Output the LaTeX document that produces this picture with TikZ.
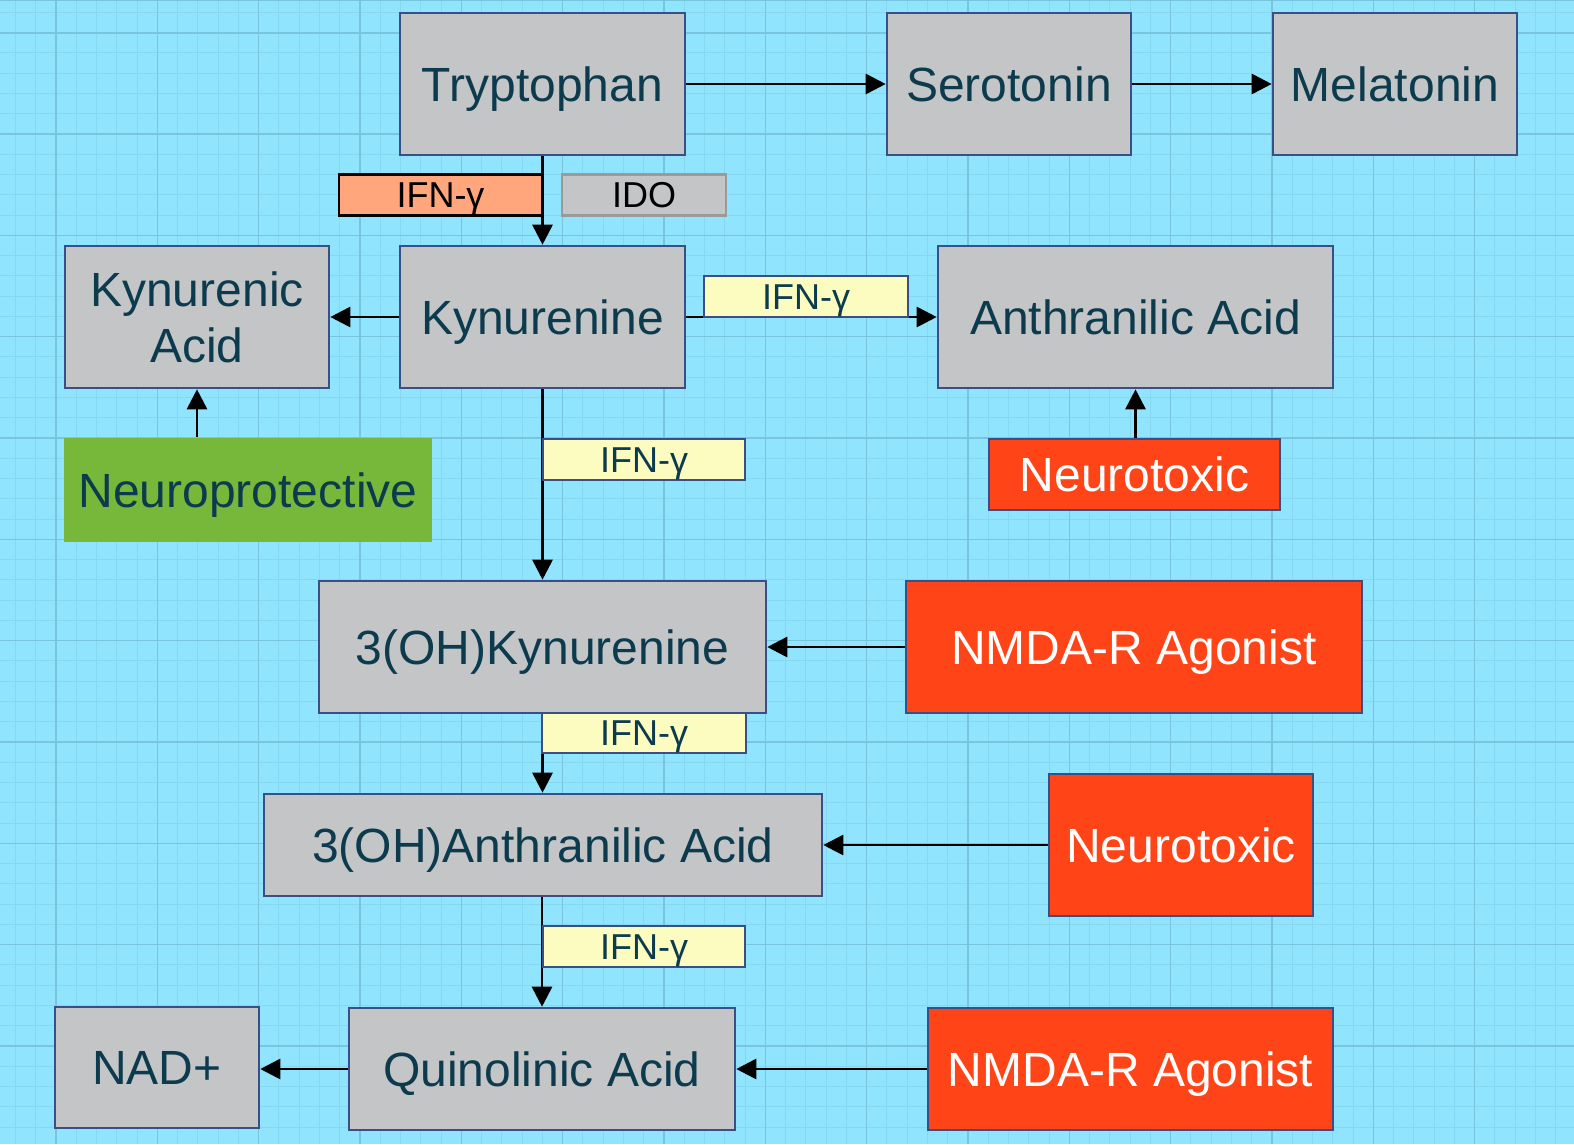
\documentclass[tikz,border=0pt]{standalone}
\usepackage{fontspec}
\setmainfont{Liberation Sans}
\usetikzlibrary{arrows.meta}
\definecolor{bg}{HTML}{91E4FD}
\definecolor{gminor}{HTML}{87D7F0}
\definecolor{gmajor}{HTML}{78C5DD}
\definecolor{boxgray}{HTML}{C4C5C7}
\definecolor{bord}{HTML}{3B4F87}
\definecolor{txt}{HTML}{0C3B4E}
\definecolor{redbox}{HTML}{FF4417}
\definecolor{greenbox}{HTML}{77B83A}
\definecolor{orangebox}{HTML}{FFA67C}
\definecolor{yellowbox}{HTML}{FDFCC0}
\definecolor{idobord}{HTML}{9A9A9A}
\tikzset{
  box/.style={draw=bord, line width=2.6pt, fill=boxgray, text=txt, inner sep=0pt, align=center,
    font=\fontsize{48}{56}\selectfont},
  one/.style={text height=34.5pt, text depth=0pt},
  redb/.style={box, one, fill=redbox, text=white},
  greenb/.style={box, one, draw=none, fill=greenbox, text=txt},
  lab/.style={draw=bord, line width=2.2pt, fill=yellowbox, text=txt, inner sep=0pt,
    font=\fontsize{36}{40}\selectfont, text height=25.8pt, text depth=0pt},
  conn/.style={line width=2.8pt, -{Triangle[length=20pt,width=20pt]}},
}
\begin{document}
\begin{tikzpicture}[x=1pt,y=-1pt]
\fill[bg] (0,0) rectangle (1574,1144);
\useasboundingbox (0,0) rectangle (1574,1144);
\begin{scope}
\clip (0,0) rectangle (1574,1144);
\foreach \i in {-3,...,76} {
  \pgfmathsetmacro\xx{56+\i*20.267}
  \draw[gminor, line width=1pt] (\xx,0) -- (\xx,1144);
}
\foreach \i in {-2,...,56} {
  \pgfmathsetmacro\yy{32.7+\i*20.267}
  \draw[gminor, line width=1pt] (0,\yy) -- (1574,\yy);
}
\foreach \i in {-1,...,15} {
  \pgfmathsetmacro\xx{56+\i*101.33}
  \draw[gmajor, line width=1.6pt] (\xx,0) -- (\xx,1144);
}
\foreach \i in {0,...,11} {
  \pgfmathsetmacro\yy{32.7+\i*101.33}
  \draw[gmajor, line width=1.6pt] (0,\yy) -- (1574,\yy);
}
\draw[gmajor, line width=2pt] (0,0) -- (1574,0);
\end{scope}

% main nodes
\node[box, one, minimum width=285pt, minimum height=142pt] (tryp) at (542.5,84) {Tryptophan};
\node[box, one, minimum width=244pt, minimum height=142pt] (sero) at (1009,84) {Serotonin};
\node[box, one, minimum width=244pt, minimum height=142pt] (mela) at (1395,84) {Melatonin};
\node[box, one, minimum width=285pt, minimum height=142pt] (kyn) at (542.5,317) {Kynurenine};
\node[box, minimum width=264pt, minimum height=142pt] (kyna) at (197,317) {Kynurenic\\Acid};
\node[box, one, minimum width=395pt, minimum height=142pt] (anth) at (1135.5,317) {Anthranilic Acid};
\node[greenb, minimum width=368pt, minimum height=104pt] (nprot) at (248,490) {Neuroprotective};
\node[redb, minimum width=291pt, minimum height=71pt] (ntox1) at (1134.5,474.5) {Neurotoxic};
\node[box, one, minimum width=447pt, minimum height=132pt] (ohkyn) at (542.5,647) {3(OH)Kynurenine};
\node[redb, minimum width=456pt, minimum height=132pt] (nmda1) at (1134,647) {NMDA-R Agonist};
\node[box, one, minimum width=558pt, minimum height=102pt] (ohanth) at (543,845) {3(OH)Anthranilic Acid};
\node[redb, minimum width=264pt, minimum height=142pt] (ntox2) at (1181,845) {Neurotoxic};
\node[box, one, minimum width=386pt, minimum height=122pt] (quin) at (542,1069) {Quinolinic Acid};
\node[box, one, minimum width=204pt, minimum height=121pt] (nad) at (157,1067.5) {NAD+};
\node[redb, minimum width=405pt, minimum height=122pt] (nmda2) at (1130.5,1069) {NMDA-R Agonist};

% connectors
\draw[conn] (tryp.east) -- (sero.west);
\draw[conn] (sero.east) -- (mela.west);
\draw[conn] (tryp.south) -- (kyn.north);
\draw[conn] (kyn.west) -- (kyna.east);
\draw[conn] (kyn.east) -- (anth.west);
\draw[conn] (kyna.south |- nprot.north) -- (kyna.south);
\draw[conn] (anth.south |- ntox1.north) -- (anth.south);
\draw[conn] (kyn.south) -- (ohkyn.north);
\draw[conn] (nmda1.west) -- (ohkyn.east);
\draw[conn] (ohkyn.south) -- (ohkyn.south |- ohanth.north);
\draw[conn] (ntox2.west) -- (ntox2.west -| ohanth.east);
\draw[conn] (ohanth.south -| quin.north) -- (quin.north);
\draw[conn] (quin.west) -- (quin.west -| nad.east);
\draw[conn] (nmda2.west) -- (quin.east);

% labels
\node[lab, draw=black, line width=2.6pt, fill=orangebox, text=black, minimum width=203pt, minimum height=41pt] (ifn0) at (440.5,195) {IFN-γ};
\node[lab, draw=idobord, line width=2.6pt, fill=boxgray, text=black, minimum width=164pt, minimum height=41pt] (ido) at (644,195) {IDO};
\node[lab, minimum width=204pt, minimum height=41pt] (ifn1) at (806,296.5) {IFN-γ};
\node[lab, minimum width=202pt, minimum height=41pt] (ifn2) at (644,459.5) {IFN-γ};
\node[lab, minimum width=204pt, minimum height=40pt] (ifn3) at (644,733) {IFN-γ};
\node[lab, minimum width=202pt, minimum height=41pt] (ifn4) at (644,946.5) {IFN-γ};
\end{tikzpicture}
\end{document}
